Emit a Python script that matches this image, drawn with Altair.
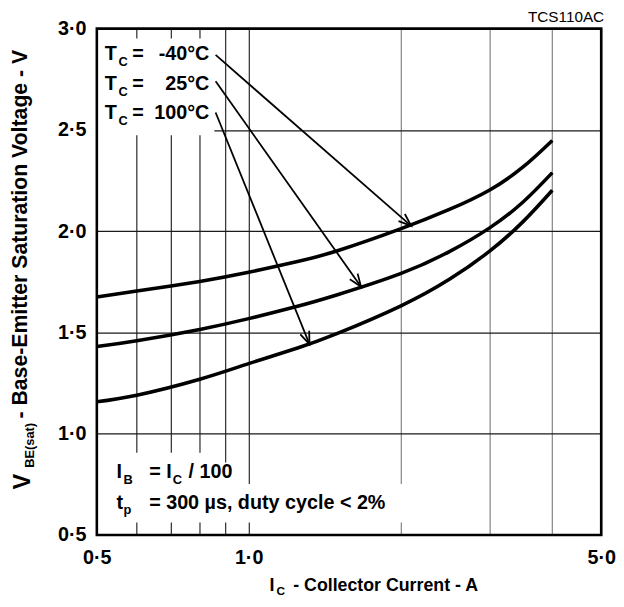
import math
import altair as alt
import pandas as pd

# ---------------- data ----------------
current_a = [0.5, 0.6, 0.8, 1.0, 1.25, 1.5, 2.0, 2.5, 3.0, 3.5, 4.0]
vbe_m40 = [1.675, 1.704, 1.752, 1.797, 1.850, 1.903, 2.011, 2.107, 2.202, 2.317, 2.448]
vbe_25 = [1.430, 1.459, 1.515, 1.568, 1.629, 1.686, 1.790, 1.899, 2.015, 2.144, 2.289]
vbe_100 = [1.158, 1.190, 1.269, 1.346, 1.423, 1.495, 1.630, 1.762, 1.900, 2.047, 2.202]
series_names = ["-40°C", "25°C", "100°C"]

x_ticks = [0.5, 0.6, 0.7, 0.8, 0.9, 1.0, 2.0, 3.0, 4.0, 5.0]
x_tick_labels = {0.5: "0·5", 1.0: "1·0", 5.0: "5·0"}
y_ticks = [0.5, 1.0, 1.5, 2.0, 2.5, 3.0]

# annotation arrows: label end -> curve (current A, voltage V)
arrow_start_i = [0.86, 0.86, 0.86]
arrow_start_v = [2.87, 2.74, 2.586]
arrow_end_i = [2.10, 1.67, 1.32]
arrow_end_v = [2.026, 1.726, 1.442]

# white backgrounds behind the annotation texts (data coords)
box_x1 = [0.5, 0.5, 0.875, 0.98]
box_x2 = [0.855, 0.875, 0.98, 2.02]
box_y1 = [2.474, 0.561, 0.561, 0.561]
box_y2 = [2.951, 0.906, 0.858, 0.751]

# ---------------- layout ----------------
W, H = 511, 513
FONT = "Liberation Sans"
X_DOM = [0.5, 5.0]
Y_DOM = [0.5, 3.0]

xscale = alt.Scale(type="log", domain=X_DOM, nice=False)
yscale = alt.Scale(domain=Y_DOM, nice=False, zero=False)

label_expr = " : ".join(
    f"datum.value == {k} ? '{v}'" for k, v in x_tick_labels.items()
) + " : ''"

xaxis = alt.Axis(
    values=x_ticks, labelExpr=label_expr, title=None, ticks=False, domain=False,
    grid=True, gridWidth=1.3,
    gridColor={"condition": {"test": "datum.value >= 2", "value": "#8c8c8c"}, "value": "#3a3a3a"},
    labelFont=FONT, labelFontSize=20, labelFontWeight="bold", labelColor="black",
    labelPadding=13, labelOverlap=False, labelFlush=False,
)
yaxis = alt.Axis(
    values=y_ticks, labelExpr="replace(format(datum.value, '.1f'), '.', '·')",
    title=None, ticks=False, domain=False, grid=True, gridWidth=1.3, gridColor="#1a1a1a",
    labelFont=FONT, labelFontSize=20, labelFontWeight="bold", labelColor="black",
    labelPadding=11, labelOverlap=False, labelFlush=False,
)


def X(field):
    return alt.X(f"{field}:Q", scale=xscale, axis=xaxis)


def Y(field):
    return alt.Y(f"{field}:Q", scale=yscale, axis=yaxis)


rows = []
for name, vals in zip(series_names, [vbe_m40, vbe_25, vbe_100]):
    for i, v in zip(current_a, vals):
        rows.append({"I": i, "V": v, "series": name})
curves_df = pd.DataFrame(rows)

boxes_df = pd.DataFrame({"x1": box_x1, "x2": box_x2, "y1": box_y1, "y2": box_y2})


def px(i):
    return W * math.log10(i / X_DOM[0]) / math.log10(X_DOM[1] / X_DOM[0])


def py(v):
    return H * (Y_DOM[1] - v) / (Y_DOM[1] - Y_DOM[0])


angles = []
for si, sv, ei, ev in zip(arrow_start_i, arrow_start_v, arrow_end_i, arrow_end_v):
    dx = px(ei) - px(si)
    dy = py(ev) - py(sv)
    angles.append(math.degrees(math.atan2(dx, -dy)) % 360)

arrows_df = pd.DataFrame({
    "si": arrow_start_i, "sv": arrow_start_v,
    "ei": arrow_end_i, "ev": arrow_end_v, "ang": angles,
})

boxes = alt.Chart(boxes_df).mark_rect(color="white").encode(
    x=X("x1"), x2="x2", y=Y("y1"), y2="y2"
)

curves = alt.Chart(curves_df).mark_line(
    color="black", strokeWidth=3.6, interpolate="natural"
).encode(x=X("I"), y=Y("V"), detail="series:N")

arrow_lines = alt.Chart(arrows_df).mark_rule(color="black", strokeWidth=1.8).encode(
    x=X("si"), y=Y("sv"), x2="ei", y2="ev"
)

arrow_heads = alt.Chart(arrows_df).mark_point(
    shape="M -0.38 1 L 0 0 L 0.38 1", filled=False, stroke="black",
    strokeWidth=1.8, size=650, opacity=1,
).encode(x=X("ei"), y=Y("ev"), angle=alt.Angle("ang:Q", scale=None))

one = pd.DataFrame({"k": [0]})


def txt(s, x, y, size, align="left", angle=0, weight="bold"):
    return alt.Chart(one).mark_text(
        text=s, font=FONT, fontSize=size, fontWeight=weight, align=align,
        baseline="alphabetic", angle=angle, color="black",
    ).encode(x=alt.value(x), y=alt.value(y))


texts = []
# temperature labels
for k, name in enumerate(series_names):
    yb = 32 + 30 * k
    texts.append(txt("T", 8, yb, 20))
    texts.append(txt("C", 22, yb + 6, 13))
    texts.append(txt("=", 36, yb, 20))
    texts.append(txt(name, 114, yb, 20, align="right"))

# test conditions
texts += [
    txt("I", 20, 455, 20),
    txt("B", 27, 461, 13),
    txt("= I", 53, 455, 20),
    txt("C", 77, 461, 13),
    txt("/ 100", 93, 455, 20),
    txt("t", 20, 487, 20),
    txt("p", 27, 492, 13),
    txt("= 300 µs, duty cycle < 2%", 53, 487, 20),
]

# figure code
texts.append(txt("TCS110AC", 514, -6.5, 15.5, align="right", weight="normal"))

# x title
texts += [
    txt("I", 175, 570, 18),
    txt("C", 182, 574, 12),
    txt("- Collector Current - A", 199, 570, 18),
]

# y title (rotated)
texts += [
    txt("V", -68, 467, 24, angle=270),
    txt("BE(sat)", -63.5, 445, 13, angle=270),
    txt("- Base-Emitter Saturation Voltage - V", -71, 395, 21.5, angle=270),
]

frame = alt.Chart(one).mark_rect(
    filled=False, stroke="black", strokeWidth=2.6
).encode(x=alt.value(0), x2=alt.value(W), y=alt.value(0), y2=alt.value(H))

chart = alt.layer(
    boxes, curves, arrow_lines, arrow_heads, *texts, frame
).properties(
    width=W, height=H,
    autosize=alt.AutoSizeParams(type="none"),
    padding={"left": 90, "top": 17, "right": 15, "bottom": 61},
).configure_view(stroke=None).configure(background="white")

chart.save("out.html", embed_options={"renderer": "svg", "actions": False})
